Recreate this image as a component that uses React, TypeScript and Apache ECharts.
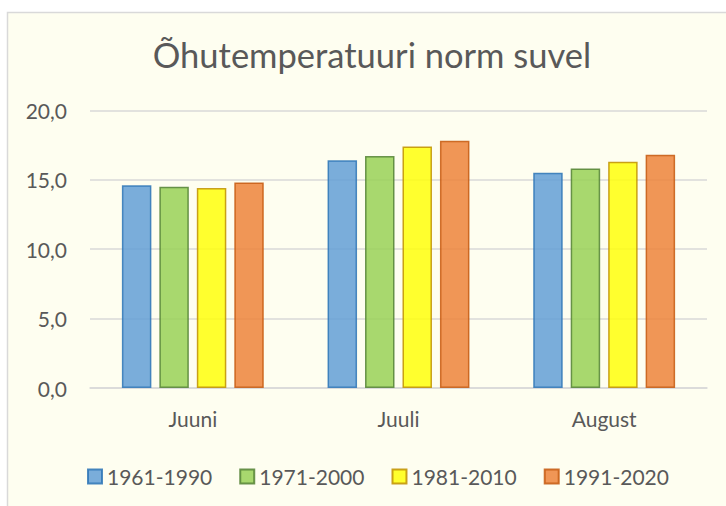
import React, { useEffect, useRef } from "react";
import * as echarts from "echarts";

const categories = ["Juuni", "Juuli", "August"];
const seriesNames = ["1961-1990", "1971-2000", "1981-2010", "1991-2020"];
const values1961 = [14.6, 16.4, 15.5];
const values1971 = [14.5, 16.7, 15.8];
const values1981 = [14.4, 17.4, 16.3];
const values1991 = [14.8, 17.8, 16.8];
const yTicks = [0, 5, 10, 15, 20];
const titleText = "Õhutemperatuuri norm suvel";

const fills = ["rgb(99,159,214)", "rgb(153,209,87)", "rgb(255,255,12)", "rgb(237,132,59)"];
const borders = ["#2E75B6", "#548235", "#BF9000", "#C55A11"];
const textColor = "#595959";
const font = "Lato";

export default function App() {
  const ref = useRef<HTMLDivElement>(null);
  useEffect(() => {
    if (!ref.current) return;
    const chart = echarts.init(ref.current, undefined, { renderer: "svg" });
    const all = [values1961, values1971, values1981, values1991];
    chart.setOption({
      animation: false,
      backgroundColor: "#ffffff",
      graphic: [
        {
          type: "rect",
          z: -10,
          silent: true,
          shape: { x: 7.5, y: 12.5, width: 800, height: 600 },
          style: { fill: "#FEFEF0", stroke: "#D9D9D9", lineWidth: 1.5 },
        },
        {
          type: "text",
          x: 372,
          y: 54,
          style: {
            text: titleText,
            fill: textColor,
            font: `34.5px ${font}`,
            align: "center",
            verticalAlign: "middle",
          },
        },
      ],
      grid: { left: 90, right: 19, top: 110.3, bottom: 118, containLabel: false },
      legend: {
        left: 82,
        top: 461,
        icon: "rect",
        itemWidth: 14,
        itemHeight: 14,
        itemGap: 27,
        data: seriesNames,
        textStyle: { color: textColor, fontSize: 21, fontFamily: font },
      },
      xAxis: {
        type: "category",
        data: categories,
        axisLine: { lineStyle: { color: "#D9D9D9", width: 1.5 } },
        axisTick: { show: false },
        axisLabel: { color: textColor, fontSize: 21, fontFamily: font, margin: 20 },
      },
      yAxis: {
        type: "value",
        min: yTicks[0],
        max: yTicks[yTicks.length - 1],
        interval: 5,
        axisLine: { show: false },
        axisTick: { show: false },
        splitLine: { lineStyle: { color: "#D9D9D9", width: 1.5 } },
        axisLabel: {
          color: textColor,
          fontSize: 21,
          fontFamily: font,
          margin: 23,
          formatter: (v: number) => v.toFixed(1).replace(".", ","),
        },
      },
      series: seriesNames.map((name, i) => ({
        name,
        type: "bar",
        data: all[i],
        barWidth: 29.5,
        barGap: "27%",
        itemStyle: {
          color: fills[i],
          borderColor: borders[i],
          borderWidth: 1.5,
          opacity: 0.85,
        },
      })),
    });
    return () => chart.dispose();
  }, []);
  return (
    <div style={{ position: "fixed", left: 0, top: 0, width: 726, height: 506, background: "#fff" }}>
      <div ref={ref} style={{ width: 726, height: 506 }} />
    </div>
  );
}
